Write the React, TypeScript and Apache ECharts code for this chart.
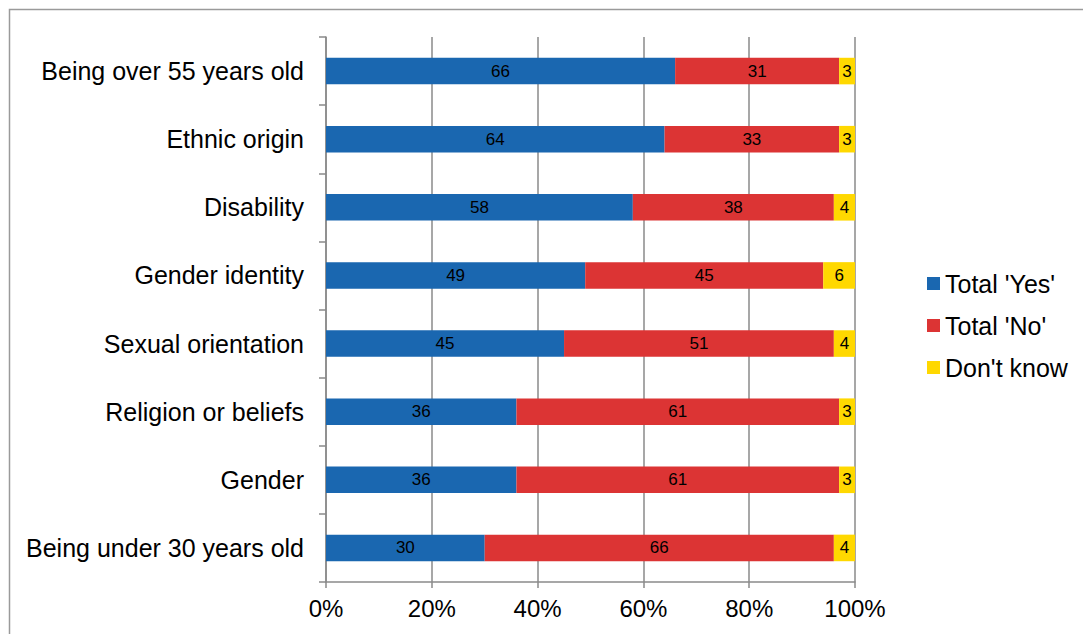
import React, { useEffect, useRef } from "react";
import * as echarts from "echarts";

const categories = [
  "Being over 55 years old",
  "Ethnic origin",
  "Disability",
  "Gender identity",
  "Sexual orientation",
  "Religion or beliefs",
  "Gender",
  "Being under 30 years old",
];
const yesValues = [66, 64, 58, 49, 45, 36, 36, 30];
const noValues = [31, 33, 38, 45, 51, 61, 61, 66];
const dkValues = [3, 3, 4, 6, 4, 3, 3, 4];
const seriesNames = ["Total 'Yes'", "Total 'No'", "Don't know"];
const xTicks = [0, 20, 40, 60, 80, 100];

const FONT = "'Liberation Sans', Arial, sans-serif";

export default function App() {
  const ref = useRef<HTMLDivElement>(null);
  useEffect(() => {
    document.body.style.margin = "0";
    if (!ref.current) return;
    const chart = echarts.init(ref.current, undefined, { renderer: "svg" });
    const colors = ["#1a67b0", "#dc3434", "#ffd800"];
    const data = [yesValues, noValues, dkValues];
    chart.setOption({
      animation: false,
      textStyle: { fontFamily: FONT },
      graphic: [
        {
          type: "rect",
          shape: { x: 9.5, y: 9.5, width: 1200, height: 800 },
          style: { fill: "none", stroke: "#9a9a9a", lineWidth: 1.5 },
          silent: true,
        },
      ],
      grid: { left: 326, right: 228, top: 37, bottom: 52 },
      legend: {
        orient: "vertical",
        left: 927,
        top: 271,
        padding: 0,
        itemWidth: 13,
        itemHeight: 13,
        itemGap: 17,
        icon: "rect",
        textStyle: { fontSize: 25, color: "#000", fontFamily: FONT, lineHeight: 25 },
        data: seriesNames,
      },
      xAxis: {
        type: "value",
        min: 0,
        max: 100,
        interval: 20,
        axisLine: { show: true, lineStyle: { color: "#8a8a8a", width: 1.5 } },
        axisTick: { show: true, length: 6, lineStyle: { color: "#8a8a8a", width: 1.5 } },
        splitLine: { show: true, lineStyle: { color: "#8a8a8a", width: 1.5 } },
        axisLabel: {
          fontSize: 24,
          color: "#000",
          margin: 14,
          fontFamily: FONT,
          formatter: (v: number) => (xTicks.includes(v) ? v + "%" : ""),
        },
      },
      yAxis: {
        type: "category",
        inverse: true,
        data: categories,
        axisLine: { show: true, lineStyle: { color: "#8a8a8a", width: 1.5 } },
        axisTick: { show: true, length: 7, lineStyle: { color: "#8a8a8a", width: 1.5 } },
        axisLabel: { fontSize: 25, color: "#000", margin: 22, fontFamily: FONT },
      },
      series: seriesNames.map((name, i) => ({
        name,
        type: "bar",
        stack: "total",
        barCategoryGap: "61%",
        data: data[i],
        itemStyle: { color: colors[i] },
        label: {
          show: true,
          position: "inside",
          color: "#000",
          fontSize: 17,
          fontFamily: FONT,
        },
      })),
    });
    return () => chart.dispose();
  }, []);
  return <div ref={ref} style={{ width: 1083, height: 634 }} />;
}
